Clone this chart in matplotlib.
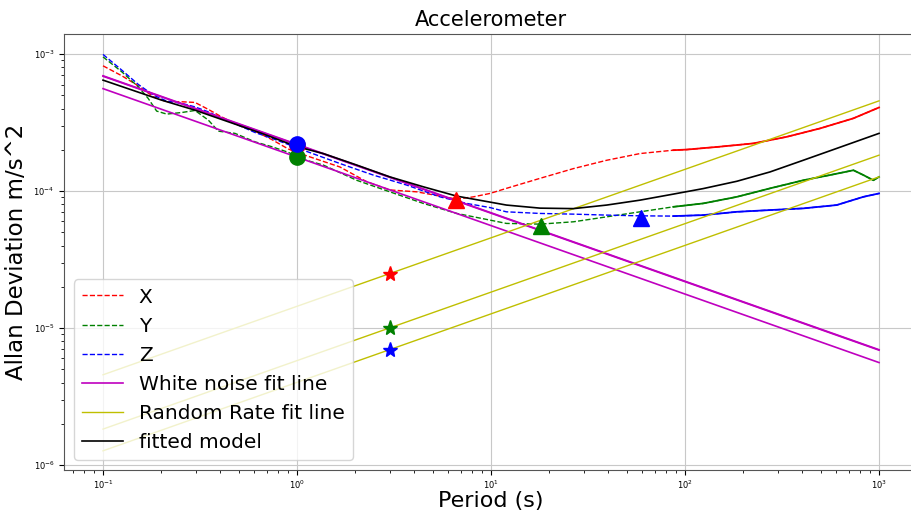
import numpy as np
import matplotlib
matplotlib.use("Agg")
import matplotlib.pyplot as plt

# Allan deviation curves (tau in s, value in m/s^2)
x_tau = [0.1, 0.125, 0.152, 0.182, 0.213, 0.255, 0.298, 0.349, 0.409, 0.498,
         0.607, 0.741, 0.902, 1.036, 1.665, 2.29, 3.01, 4.14, 5.46, 6.66,
         8.11, 9.89, 12.0, 17.9, 26.6, 39.5, 58.6, 87.1, 102, 151, 225, 334,
         497, 738, 1000]
x_adev = [8.22e-4, 6.95e-4, 5.87e-4, 4.88e-4, 4.49e-4, 4.49e-4, 4.44e-4,
          3.95e-4, 3.48e-4, 3.03e-4, 2.74e-4, 2.38e-4, 2.03e-4, 1.88e-4,
          1.50e-4, 1.17e-4, 1.02e-4, 9.88e-5, 9.19e-5, 8.75e-5, 9.08e-5,
          9.62e-5, 1.047e-4, 1.24e-4, 1.46e-4, 1.68e-4, 1.88e-4, 1.99e-4,
          2.01e-4, 2.11e-4, 2.23e-4, 2.49e-4, 2.87e-4, 3.40e-4, 4.08e-4]

y_tau = [0.1, 0.125, 0.152, 0.171, 0.189, 0.213, 0.255, 0.298, 0.349, 0.393,
         0.479, 0.607, 0.741, 0.902, 1.036, 1.366, 2.03, 3.01, 4.48, 6.66,
         9.89, 12.0, 17.9, 26.6, 39.5, 58.6, 87.1, 124, 185, 274, 407, 559,
         738, 830, 935, 1000]
y_adev = [9.55e-4, 7.43e-4, 5.77e-4, 4.75e-4, 3.84e-4, 3.65e-4, 3.75e-4,
          3.88e-4, 3.30e-4, 2.74e-4, 2.64e-4, 2.29e-4, 2.11e-4, 1.92e-4,
          1.73e-4, 1.55e-4, 1.20e-4, 9.88e-5, 8.13e-5, 6.87e-5, 6.14e-5,
          5.81e-5, 5.74e-5, 5.97e-5, 6.49e-5, 7.06e-5, 7.68e-5, 8.13e-5,
          9.08e-5, 1.047e-4, 1.20e-4, 1.31e-4, 1.42e-4, 1.31e-4, 1.20e-4,
          1.27e-4]

z_tau = [0.1, 0.125, 0.152, 0.182, 0.213, 0.255, 0.298, 0.349, 0.409, 0.498,
         0.607, 0.741, 0.902, 1.036, 1.665, 2.47, 3.68, 5.46, 7.49, 9.89,
         12.0, 17.9, 26.6, 39.5, 58.6, 87.1, 124, 185, 274, 407, 605, 830,
         1000]
z_adev = [9.95e-4, 7.64e-4, 6.01e-4, 5.02e-4, 4.54e-4, 4.37e-4, 4.12e-4,
          3.79e-4, 3.40e-4, 3.03e-4, 2.68e-4, 2.43e-4, 2.19e-4, 2.03e-4,
          1.59e-4, 1.31e-4, 1.106e-4, 9.08e-5, 8.13e-5, 7.58e-5, 7.06e-5,
          6.87e-5, 6.79e-5, 6.68e-5, 6.60e-5, 6.57e-5, 6.68e-5, 7.06e-5,
          7.27e-5, 7.48e-5, 7.91e-5, 9.08e-5, 9.62e-5]

# fitted model (black curve)
fit_tau = [0.1, 0.201, 0.298, 0.442, 0.658, 1.0, 1.366, 2.03, 3.01, 4.48,
           6.66, 9.89, 12.0, 17.9, 26.6, 39.5, 58.6, 87.1, 124, 185, 274,
           407, 605, 1000]
fit_adev = [6.46e-4, 4.61e-4, 3.90e-4, 3.21e-4, 2.64e-4, 2.11e-4, 1.88e-4,
            1.55e-4, 1.27e-4, 1.075e-4, 9.19e-5, 8.31e-5, 7.91e-5, 7.51e-5,
            7.45e-5, 7.91e-5, 8.59e-5, 9.51e-5, 1.043e-4, 1.18e-4, 1.38e-4,
            1.68e-4, 2.05e-4, 2.64e-4]

# fit line end points (tau = 0.1 and 1000), per axis x, y, z
line_tau = [0.1, 1000]
white_ends = {"x": [6.9e-4, 6.9e-6], "y": [5.6e-4, 5.6e-6], "z": [6.95e-4, 6.95e-6]}
rate_ends = {"x": [4.56e-6, 4.56e-4], "y": [1.83e-6, 1.83e-4], "z": [1.27e-6, 1.27e-4]}

# markers: white noise at tau=1, bias instability minimum, random rate at tau=3
white_pts = {"x": (1.0, 2.18e-4), "y": (1.0, 1.77e-4), "z": (1.0, 2.2e-4)}
bias_pts = {"x": (6.6, 8.6e-5), "y": (18.1, 5.56e-5), "z": (59.3, 6.35e-5)}
rate_pts = {"x": (3.0, 2.5e-5), "y": (3.0, 1.0e-5), "z": (3.0, 6.96e-6)}

colors = {"x": "r", "y": "g", "z": "b"}
curves = {"x": (x_tau, x_adev), "y": (y_tau, y_adev), "z": (z_tau, z_adev)}

fig = plt.figure(figsize=(9.12, 5.14), dpi=100)
ax = fig.add_axes([0.0704, 0.0856, 0.936, 0.848])

for k in ["x", "y", "z"]:
    t, a = curves[k]
    ax.loglog(t, a, "--", color=colors[k], lw=1.0, label=k.upper())
    # long-tau part looks solid because of the noisy samples
    t = np.array(t)
    a = np.array(a)
    sel = t >= 60
    ax.loglog(t[sel], a[sel], "-", color=colors[k], lw=1.3)

for i, k in enumerate(["x", "y", "z"]):
    ax.loglog(line_tau, white_ends[k], "m-", lw=1.2,
              label="White noise fit line" if i == 0 else None)
for i, k in enumerate(["x", "y", "z"]):
    ax.loglog(line_tau, rate_ends[k], "y-", lw=1.0,
              label="Random Rate fit line" if i == 0 else None)

ax.loglog(fit_tau, fit_adev, "k-", lw=1.2, label="fitted model")

for k in ["x", "y", "z"]:
    c = colors[k]
    ax.plot(*white_pts[k], "o", color=c, ms=11)
    ax.plot(*bias_pts[k], "^", color=c, ms=12)
    ax.plot(*rate_pts[k], "*", color=c, ms=11)

ax.set_xlim(10 ** -1.2, 10 ** 3.2)
ax.set_ylim(9.2e-7, 1.4e-3)
ax.grid(True, which="major", color="#c8c8c8", lw=0.8)
ax.tick_params(labelsize=6)
ax.tick_params(axis="x", which="major", pad=2.5)
for s in ax.spines.values():
    s.set_color("#555555")

ax.set_title("Accelerometer", fontsize=15)
ax.set_xlabel("Period (s)", fontsize=16, labelpad=0)
ax.set_ylabel("Allan Deviation m/s^2", fontsize=16.5)
ax.legend(loc="lower left", fontsize=14.5, framealpha=0.8)

fig.savefig("out.png", dpi=100)
